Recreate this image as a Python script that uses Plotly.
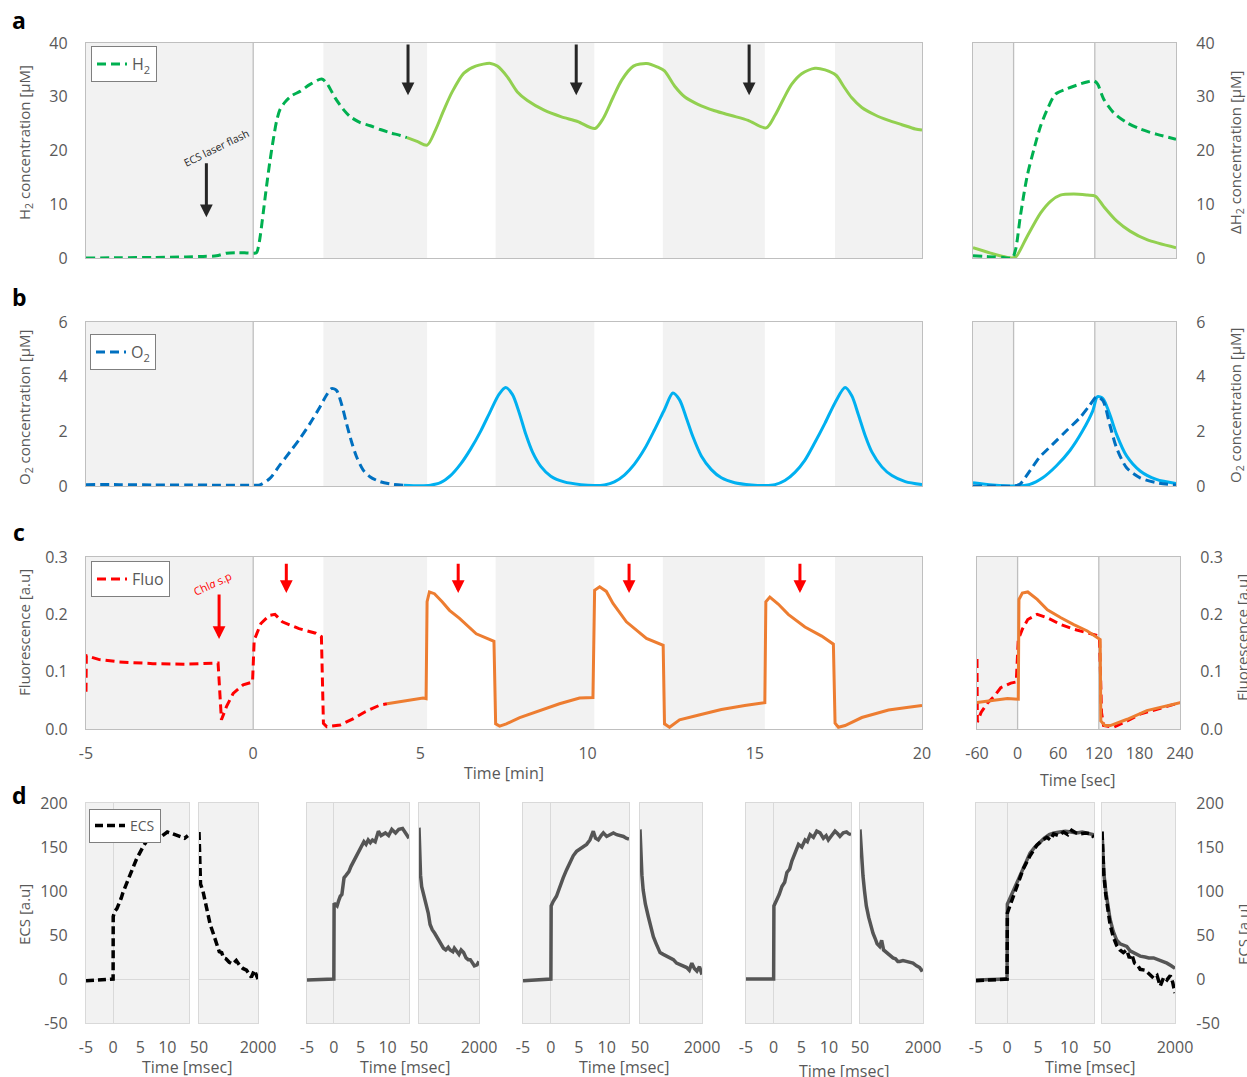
import plotly.graph_objects as go

W, H = 1247, 1077
FONT = "Open Sans"
TXT = "#595959"
SHADE = "#f2f2f2"
FRAME = "#bfbfbf"
FRAME_D = "#d9d9d9"

C_H2_DARK, C_H2_LIGHT = "#00b050", "#92d050"
C_O2_DARK, C_O2_LIGHT = "#0070c0", "#00b0f0"
C_FL_DARK, C_FL_LIGHT = "#ff0000", "#ed7d31"
C_ECS_DARK, C_ECS_LIGHT = "#000000", "#555555"
DASH = "9px,5px"

# ---------------- a: H2 (time in min) ----------------
h2_first_t = [-5, -4, -3, -2, -1.5, -1.1, -0.8, -0.5, -0.2, 0.0, 0.1, 0.16, 0.22, 0.3, 0.4,
              0.5, 0.6, 0.7, 0.8, 0.95, 1.15, 1.4, 1.7, 2.05, 2.2, 2.45, 2.7, 2.9, 3.2, 3.5,
              3.8, 4.1, 4.4, 4.6]
h2_first_v = [0.0, 0.05, 0.1, 0.2, 0.3, 0.4, 0.9, 1.0, 0.95, 0.9, 1.0, 2.2, 4.5, 8.4, 13.4,
              18.0, 22.0, 25.5, 27.6, 29.0, 30.2, 31.0, 32.3, 33.3, 32.5, 29.8, 27.6, 26.3,
              25.2, 24.6, 23.9, 23.3, 22.8, 22.4]
h2_next_t = [4.6, 4.9, 5.2, 5.45, 5.7, 5.95, 6.3, 6.65, 7.1, 7.3, 7.6, 7.9, 8.2, 8.7, 9.2,
             9.7, 10.22, 10.47, 10.77, 11.02, 11.37, 11.77, 12.1, 12.3, 12.6, 12.9, 13.3,
             13.8, 14.3, 14.8, 15.34, 15.6, 15.85, 16.1, 16.4, 16.8, 17.1, 17.43, 17.65,
             17.9, 18.2, 18.6, 19.0, 19.4, 19.8, 20.0]
h2_next_v = [22.4, 21.7, 21.0, 23.8, 27.5, 30.9, 34.4, 35.7, 36.2, 35.7, 33.7, 30.9, 29.3,
             27.5, 26.3, 25.4, 24.1, 26.0, 30.0, 33.1, 35.7, 36.2, 35.5, 34.8, 32.0, 30.0,
             28.6, 27.4, 26.5, 25.6, 24.2, 26.5, 29.5, 32.3, 34.3, 35.3, 35.0, 34.0, 32.0,
             29.8, 28.0, 26.6, 25.6, 24.8, 24.0, 23.8]
# a inset: delta H2 (time in s)
dh2_first_t = [-60, -45, -30, -15, -2, 3, 10, 20, 30, 40, 50, 62, 79, 99, 110, 118, 124,
               133, 148, 167, 187, 212, 240]
dh2_first_v = [0.4, 0.3, 0.2, 0.1, 0.0, 1.6, 7.8, 15.2, 20.2, 24.6, 27.7, 30.5, 31.5, 32.4,
               32.8, 33.0, 32.4, 29.6, 27.0, 25.2, 24.0, 23.0, 22.1]
dh2_next_t = [-60, -34, -2, 4, 20, 40, 55, 69, 89, 109, 121, 133, 153, 172, 197, 240]
dh2_next_v = [1.9, 0.9, 0.0, 0.3, 4.0, 8.4, 10.6, 11.7, 11.9, 11.7, 11.5, 9.6, 6.8, 5.0,
              3.4, 1.9]

# ---------------- b: O2 ----------------
o2_first_t = [-5, -4, -3, -2, -1, 0, 0.2, 0.5, 0.8, 1.1, 1.4, 1.7, 2.0, 2.19, 2.34, 2.49,
              2.64, 2.79, 2.94, 3.09, 3.29, 3.49, 3.79, 4.19, 4.5]
o2_first_v = [0.05, 0.05, 0.04, 0.04, 0.03, 0.03, 0.04, 0.28, 0.77, 1.25, 1.74, 2.29, 2.9,
              3.32, 3.56, 3.5, 3.0, 2.29, 1.62, 1.07, 0.58, 0.34, 0.16, 0.06, 0.03]
o2_next_t = [4.5, 5.0, 5.3, 5.6, 5.9, 6.2, 6.5, 6.8, 7.1, 7.35, 7.55, 7.75, 7.95, 8.15,
             8.35, 8.6, 8.9, 9.3, 9.8, 10.2, 10.5, 10.8, 11.1, 11.4, 11.7, 12.0, 12.3,
             12.55, 12.75, 12.95, 13.15, 13.4, 13.7, 14.0, 14.4, 14.9, 15.3, 15.6, 15.9,
             16.2, 16.5, 16.8, 17.1, 17.4, 17.7, 17.9, 18.1, 18.3, 18.5, 18.8, 19.1, 19.5,
             20.0]
o2_next_v = [0.03, 0.01, 0.03, 0.12, 0.38, 0.8, 1.35, 2.0, 2.75, 3.35, 3.6, 3.35, 2.7, 1.9,
             1.25, 0.72, 0.36, 0.15, 0.05, 0.02, 0.04, 0.15, 0.4, 0.8, 1.35, 2.05, 2.8,
             3.4, 3.15, 2.5, 1.8, 1.1, 0.6, 0.3, 0.12, 0.04, 0.02, 0.05, 0.2, 0.5, 0.95,
             1.6, 2.3, 3.05, 3.6, 3.3, 2.6, 1.85, 1.25, 0.7, 0.38, 0.16, 0.05]
o2s_first_t = [-60, -30, 0, 9, 24, 38, 58, 78, 98, 112, 123, 132, 142, 152, 167, 187, 211, 240]
o2s_first_v = [0.0, 0.0, 0.0, 0.06, 0.55, 1.04, 1.53, 2.02, 2.5, 2.94, 3.27, 3.12, 2.26,
               1.41, 0.67, 0.3, 0.12, 0.04]
o2s_next_t = [-60, -31, 4, 24, 43, 63, 83, 102, 117, 124, 132, 142, 152, 167, 187, 211, 240]
o2s_next_v = [0.12, 0.04, 0.0, 0.06, 0.3, 0.73, 1.29, 2.02, 2.75, 3.27, 3.2, 2.63, 1.9,
              1.1, 0.55, 0.24, 0.09]

# ---------------- c: chlorophyll fluorescence ----------------
fl_first_t = [-5.0, -4.99, -4.6, -4.0, -3.0, -2.0, -1.05, -1.0, -0.95, -0.8, -0.6, -0.3,
              -0.02, 0.03, 0.1, 0.23, 0.48, 0.65, 0.87, 1.37, 1.87, 2.04, 2.1, 2.2, 2.6,
              3.0, 3.35, 3.8, 4.0]
fl_first_v = [0.065, 0.128, 0.121, 0.117, 0.114, 0.113, 0.115, 0.06, 0.016, 0.039, 0.062,
              0.077, 0.082, 0.155, 0.165, 0.184, 0.198, 0.2, 0.187, 0.175, 0.167, 0.161,
              0.01, 0.004, 0.007, 0.018, 0.03, 0.042, 0.044]
fl_next_t = [4.0, 4.5, 5.08, 5.17, 5.2, 5.27, 5.42, 5.65, 5.87, 6.17, 6.67, 7.2, 7.25,
             7.37, 7.57, 7.97, 8.57, 9.16, 9.76, 10.16, 10.21, 10.36, 10.56, 10.76, 11.16,
             11.76, 12.26, 12.3, 12.45, 12.75, 13.3, 14.0, 14.7, 15.3, 15.33, 15.45, 15.7,
             16.0, 16.5, 17.0, 17.35, 17.4, 17.5, 17.7, 18.2, 19.0, 19.6, 20.0]
fl_next_v = [0.044, 0.049, 0.054, 0.053, 0.222, 0.239, 0.236, 0.222, 0.207, 0.193, 0.166,
             0.153, 0.009, 0.005, 0.009, 0.02, 0.032, 0.044, 0.054, 0.055, 0.242, 0.248,
             0.24, 0.219, 0.187, 0.158, 0.146, 0.009, 0.003, 0.016, 0.024, 0.034, 0.041,
             0.046, 0.222, 0.23, 0.218, 0.2, 0.178, 0.162, 0.148, 0.01, 0.003, 0.006, 0.02,
             0.033, 0.038, 0.041]
fls_first_t = [-60, -59.5, -54, -44, -34, -25, -10, -2, 1, 7, 15, 29, 44, 64, 83, 103, 121,
               124, 127, 142, 162, 181, 206, 240]
fls_first_v = [0.122, 0.012, 0.029, 0.046, 0.058, 0.072, 0.08, 0.082, 0.156, 0.174, 0.191,
               0.2, 0.194, 0.182, 0.174, 0.168, 0.162, 0.029, 0.006, 0.003, 0.014, 0.026,
               0.035, 0.046]
fls_next_t = [-60, -39, -15, 1, 2, 7, 15, 29, 44, 64, 83, 103, 122, 123, 129, 137, 162,
              191, 240]
fls_next_v = [0.046, 0.049, 0.053, 0.052, 0.226, 0.237, 0.239, 0.226, 0.208, 0.194, 0.182,
              0.171, 0.156, 0.014, 0.006, 0.006, 0.017, 0.032, 0.046]

# ---------------- d: ECS after each flash (time in ms) ----------------
ecs1_rise_t = [-5, -0.3, 0, 0.02, 0.3, 0.7, 1.2, 1.5, 1.8, 2.4, 3.0, 3.7, 4.3, 4.9, 5.5, 6.1,
               6.7, 7.3, 7.8, 8.5, 9.2, 10.0, 11.0, 12.0, 12.5, 13.2, 13.8]
ecs1_rise_v = [-2, -1, 0, 71, 77, 80, 87, 92, 98, 108, 116, 127, 136, 144, 150, 156, 158,
               162, 159, 160, 163, 167, 165, 163, 161, 160, 163]
ecs1_decay_t = [50, 60, 71, 100, 180, 260, 340, 420, 500, 600, 720, 800, 860, 940, 1050,
                1160, 1280, 1400, 1500, 1620, 1700, 1780, 1880, 1940, 2000]
ecs1_decay_v = [167, 140, 119, 108, 100, 88, 73, 62, 54, 42, 31, 30, 24, 23, 19, 17, 21, 15,
                12, 10, 6, 2, 10, 6, 0]

ecs2_rise_t = [-5, -0.2, 0, 0.05, 0.3, 0.6, 0.9, 1.2, 1.5, 1.9, 2.3, 2.8, 3.2, 3.7, 4.1,
               4.6, 5.0, 5.6, 6.0, 6.4, 6.8, 7.2, 7.7, 8.3, 8.8, 9.6, 10.2, 10.8, 11.5,
               12.1, 12.8, 13.4, 14.0]
ecs2_rise_v = [-1, 0, 0, 86, 84, 83, 89, 94, 96, 115, 118, 122, 128, 134, 138, 145, 150,
               156, 153, 158, 155, 158, 156, 168, 163, 166, 163, 170, 166, 170, 171, 165, 160]
ecs2_decay_t = [50, 70, 100, 137, 200, 300, 350, 410, 480, 560, 627, 700, 780, 845, 920,
                1000, 1063, 1150, 1200, 1281, 1350, 1420, 1499, 1580, 1650, 1717, 1800,
                1850, 1935, 2000]
ecs2_decay_v = [172, 140, 118, 105, 96, 83, 75, 62, 56, 52, 48, 43, 38, 35, 33, 36, 33, 31,
                35, 31, 28, 33, 30, 24, 22, 22, 18, 15, 16, 20]

ecs3_rise_t = [-5, -0.1, 0, 0.05, 0.4, 1.0, 1.5, 2.2, 2.8, 3.4, 4.0, 4.6, 5.2, 5.8, 6.4,
               7.0, 7.6, 8.0, 8.5, 9.0, 9.4, 10.0, 10.6, 11.2, 11.8, 12.4, 13.0, 13.5, 14.0]
ecs3_rise_v = [-2, 0, 0, 83, 88, 94, 104, 115, 124, 132, 140, 145, 148, 151, 153, 158, 168,
               160, 158, 163, 166, 162, 164, 166, 164, 163, 162, 160, 159]
ecs3_decay_t = [50, 80, 110, 150, 220, 310, 400, 470, 560, 680, 780, 890, 1000, 1100, 1200,
                1310, 1420, 1520, 1600, 1680, 1760, 1840, 1920, 2000]
ecs3_decay_v = [170, 140, 118, 101, 85, 71, 58, 48, 40, 30, 28, 26, 24, 22, 18, 16, 14, 13,
                10, 18, 12, 9, 14, 5]

ecs4_rise_t = [-5, 0, 0.05, 0.6, 1.0, 1.5, 2.0, 2.4, 2.9, 3.3, 3.9, 4.5, 5.1, 5.7, 6.1, 6.6,
               7.2, 7.8, 8.4, 9.0, 9.5, 9.9, 10.5, 11.1, 11.6, 12.0, 12.6, 13.2, 13.6, 14.0]
ecs4_rise_v = [0, 0, 83, 90, 96, 105, 110, 121, 125, 134, 143, 153, 150, 158, 156, 164, 161,
               168, 166, 160, 163, 158, 163, 168, 165, 162, 166, 167, 165, 164]
ecs4_decay_t = [50, 80, 110, 143, 190, 246, 320, 400, 452, 520, 580, 659, 720, 780, 865,
                930, 1000, 1071, 1150, 1220, 1278, 1380, 1484, 1590, 1690, 1800, 1896, 1950,
                2000]
ecs4_decay_v = [170, 150, 132, 117, 100, 83, 70, 58, 52, 46, 40, 37, 44, 33, 30, 28, 26, 24,
                23, 20, 20, 21, 20, 19, 18, 15, 13, 10, 11]

# overlay: first flash (dashed) and later flashes (solid)
ecs5a_rise_t = [-5, -0.1, 0, 0.05, 0.8, 1.6, 2.6, 3.7, 4.8, 5.6, 6.4, 7.0, 7.5, 8.3, 9.1,
                9.8, 10.4, 11.1, 11.8, 12.6, 13.4, 14.0]
ecs5a_rise_v = [-2, 0, 0, 75, 90, 106, 125, 140, 152, 157, 161, 158, 165, 163, 167, 164,
                169, 166, 165, 166, 165, 161]
ecs5b_rise_t = [-5, -0.1, 0, 0.05, 0.5, 1.0, 1.6, 2.3, 3.0, 3.7, 4.5, 5.2, 6.0, 6.8, 7.6,
                8.5, 9.4, 10.3, 11.2, 12.1, 13.0, 14.0]
ecs5b_rise_v = [-1, 0, 0, 85, 92, 100, 110, 122, 133, 143, 150, 155, 160, 164, 166, 167,
                168, 167, 166, 167, 166, 164]
ecs5a_decay_t = [50, 70, 100, 150, 200, 265, 350, 444, 530, 620, 712, 780, 846, 920, 1000,
                 1070, 1200, 1300, 1428, 1520, 1606, 1700, 1785, 1875, 1940, 2000]
ecs5a_decay_v = [167, 140, 118, 96, 80, 62, 48, 38, 33, 30, 33, 24, 28, 18, 16, 11, 10, 6,
                 1, 4, -8, 2, -1, 4, -4, -16]
ecs5b_decay_t = [50, 70, 100, 150, 200, 265, 350, 444, 530, 620, 712, 800, 900, 1000, 1070,
                 1200, 1300, 1428, 1550, 1650, 1785, 1900, 2000]
ecs5b_decay_v = [168, 142, 120, 100, 84, 68, 54, 44, 40, 38, 37, 32, 30, 28, 26, 25, 24, 24,
                 22, 20, 18, 15, 12]

# dark intervals (grey background)
dark_min = [(-5, 0), (2.1, 5.2), (7.25, 10.2), (12.25, 15.3), (17.4, 20)]
dark_sec = [(-60, 0), (120, 240)]

# arrows
h2_arrow_t = [4.63, 9.66, 14.83]
fluo_arrow_t = [0.99, 6.13, 11.24, 16.35]
flash_t = -1.4
chl_t = -1.02

min_ticks = [-5, 0, 5, 10, 15, 20]
sec_ticks = [-60, 0, 60, 120, 180, 240]
ms_rise_ticks = [-5, 0, 5, 10]
ms_decay_ticks = [50, 2000]


def xd(p0, p1):
    return [p0 / W, p1 / W]


def yd(top, bot):
    return [1 - bot / H, 1 - top / H]


def ref(kind, n):
    return kind if n == 1 else f"{kind}{n}"


def key(kind, n):
    return kind + ("axis" if n == 1 else f"axis{n}")


fig = go.Figure()


def line(n, x, y, color, dashed=False, width=3, name=None, legend=None, dash=DASH,
         smooth=False):
    fig.add_trace(go.Scatter(
        x=x, y=y, mode="lines", xaxis=ref("x", n), yaxis=ref("y", n),
        line=dict(color=color, width=width, dash=dash if dashed else "solid",
                  shape="spline" if smooth else "linear", smoothing=0.8),
        name=name or "", showlegend=legend is not None, legend=legend or "legend",
        hoverinfo="skip"))


line(1, h2_first_t, h2_first_v, C_H2_DARK, True, name="H<sub>2</sub>", legend="legend",
     smooth=True)
line(1, h2_next_t, h2_next_v, C_H2_LIGHT, smooth=True)
line(2, dh2_next_t, dh2_next_v, C_H2_LIGHT, smooth=True)
line(2, dh2_first_t, dh2_first_v, C_H2_DARK, True, smooth=True)

line(3, o2_first_t, o2_first_v, C_O2_DARK, True, name="O<sub>2</sub>", legend="legend2",
     smooth=True)
line(3, o2_next_t, o2_next_v, C_O2_LIGHT, smooth=True)
line(4, o2s_next_t, o2s_next_v, C_O2_LIGHT, smooth=True)
line(4, o2s_first_t, o2s_first_v, C_O2_DARK, True, smooth=True)

line(5, fl_first_t, fl_first_v, C_FL_DARK, True, name="Fluo", legend="legend3")
line(5, fl_next_t, fl_next_v, C_FL_LIGHT)
line(6, fls_first_t, fls_first_v, C_FL_DARK, True)
line(6, fls_next_t, fls_next_v, C_FL_LIGHT)

EDASH = "8px,4px"
line(7, ecs1_rise_t, ecs1_rise_v, C_ECS_DARK, True, 3.5, "ECS", "legend4", EDASH)
line(8, ecs1_decay_t, ecs1_decay_v, C_ECS_DARK, True, 3.5, dash=EDASH)
line(9, ecs2_rise_t, ecs2_rise_v, C_ECS_LIGHT, width=3.5)
line(10, ecs2_decay_t, ecs2_decay_v, C_ECS_LIGHT, width=3.5)
line(11, ecs3_rise_t, ecs3_rise_v, C_ECS_LIGHT, width=3.5)
line(12, ecs3_decay_t, ecs3_decay_v, C_ECS_LIGHT, width=3.5)
line(13, ecs4_rise_t, ecs4_rise_v, C_ECS_LIGHT, width=3.5)
line(14, ecs4_decay_t, ecs4_decay_v, C_ECS_LIGHT, width=3.5)
line(15, ecs5b_rise_t, ecs5b_rise_v, C_ECS_LIGHT, width=3.5)
line(15, ecs5a_rise_t, ecs5a_rise_v, C_ECS_DARK, True, 3.5, dash=EDASH)
line(16, ecs5b_decay_t, ecs5b_decay_v, C_ECS_LIGHT, width=3.5)
line(16, ecs5a_decay_t, ecs5a_decay_v, C_ECS_DARK, True, 3.5, dash=EDASH)

tickfont = dict(family=FONT, size=16, color=TXT)


def frame(domain, rng, anchor, color=FRAME, **extra):
    d = dict(domain=domain, range=rng, anchor=anchor, showline=True, linecolor=color,
             linewidth=1.3, mirror=True, showgrid=False, zeroline=False,
             showticklabels=False, ticks="", fixedrange=True, tickfont=tickfont,
             automargin=False)
    d.update(extra)
    return d


def labels(vals, text=None, side=None, ticklen=12):
    d = dict(showticklabels=True, tickvals=vals, ticks="outside", ticklen=ticklen,
             tickcolor="rgba(0,0,0,0)")
    d["ticktext"] = text if text is not None else [str(v) for v in vals]
    if side:
        d["side"] = side
    return d


lay = {}
# panels a, b, c: main (minutes) and inset (seconds)
rows = [
    (1, 43, 258, [0, 40], [0, 10, 20, 30, 40], None, False),
    (3, 322, 486, [0, 6], [0, 2, 4, 6], None, False),
    (5, 557, 729, [0, 0.3], [0, 0.1, 0.2, 0.3], ["0.0", "0.1", "0.2", "0.3"], True),
]
for n, top, bot, yr, yt, ytxt, xlab in rows:
    main_x = frame(xd(86, 922), [-5, 20], ref("y", n))
    inset_l, inset_r = (977, 1180) if n == 5 else (973, 1176)
    inset_x = frame(xd(inset_l, inset_r), [-60, 240], ref("y", n + 1))
    if xlab:
        main_x.update(labels(min_ticks, [str(v) for v in min_ticks], ticklen=10))
        inset_x.update(labels(sec_ticks, [str(v) for v in sec_ticks], ticklen=10))
    lay[key("x", n)] = main_x
    lay[key("x", n + 1)] = inset_x
    lay[key("y", n)] = frame(yd(top, bot), yr, ref("x", n), **labels(yt, ytxt, ticklen=14))
    lay[key("y", n + 1)] = frame(yd(top, bot), yr, ref("x", n + 1),
                                 **labels(yt, ytxt, side="right", ticklen=16))

# panel d: five rise/decay pairs
pairs = [((86, 189), (199, 258)), ((307, 409), (419, 479)), ((523, 629), (640, 702)),
         ((746, 851), (860, 923)), ((976, 1094), (1102, 1175))]
d_yt = [-50, 0, 50, 100, 150, 200]
for i, (rise, decay) in enumerate(pairs):
    nr, nd = 7 + 2 * i, 8 + 2 * i
    lay[key("x", nr)] = frame(xd(*rise), [-5, 14], ref("y", nr), FRAME_D,
                              zeroline=True, zerolinecolor=FRAME_D, zerolinewidth=1.2,
                              **labels(ms_rise_ticks, ticklen=10))
    lay[key("x", nd)] = frame(xd(*decay), [50, 2000], ref("y", nd), FRAME_D,
                              **labels(ms_decay_ticks, ticklen=10))
    for n in (nr, nd):
        extra = dict(zeroline=True, zerolinecolor=FRAME_D, zerolinewidth=1.2)
        if n == 7:
            extra.update(labels(d_yt, ticklen=14))
        if n == 16:
            extra.update(labels(d_yt, side="right", ticklen=17))
        lay[key("y", n)] = frame(yd(803, 1023), [-50, 200], ref("x", n), FRAME_D, **extra)

shapes = []
for n in (1, 3, 5):
    for a, b in dark_min:
        shapes.append(dict(type="rect", xref=ref("x", n), yref=ref("y", n) + " domain",
                           x0=a, x1=b, y0=0, y1=1, fillcolor=SHADE, line_width=0,
                           layer="below"))
    shapes.append(dict(type="line", xref=ref("x", n), yref=ref("y", n) + " domain",
                       x0=0, x1=0, y0=0, y1=1, line=dict(color=FRAME, width=1.3),
                       layer="below"))
    for a, b in dark_sec:
        shapes.append(dict(type="rect", xref=ref("x", n + 1), yref=ref("y", n + 1) + " domain",
                           x0=a, x1=b, y0=0, y1=1, fillcolor=SHADE, line_width=0,
                           layer="below"))
    for t in (0, 120):
        shapes.append(dict(type="line", xref=ref("x", n + 1), yref=ref("y", n + 1) + " domain",
                           x0=t, x1=t, y0=0, y1=1, line=dict(color=FRAME, width=1.3),
                           layer="below"))
for n in range(7, 17):
    shapes.append(dict(type="rect", xref=ref("x", n) + " domain", yref=ref("y", n) + " domain",
                       x0=0, x1=1, y0=0, y1=1, fillcolor=SHADE, line_width=0, layer="below"))

ann = []


def text(s, px, py, size=16, color=TXT, angle=0, **kw):
    d = dict(text=s, x=px / W, y=1 - py / H, xref="paper", yref="paper", showarrow=False,
             xanchor="center", yanchor="middle", textangle=angle,
             font=dict(family=FONT, size=size, color=color))
    d.update(kw)
    ann.append(d)


for letter, py in (("a", 20), ("b", 297), ("c", 532), ("d", 795)):
    text(f"<b>{letter}</b>", 19, py, size=23, color="#000000")

text("H<sub>2</sub> concentration [µM]", 25, 143, 15, angle=-90)
text("O<sub>2</sub> concentration [µM]", 25, 408, 15, angle=-90)
text("Fluorescence [a.u]", 24, 633, 15, angle=-90)
text("ECS [a.u]", 24, 915, 15, angle=-90)
text("ΔH<sub>2</sub> concentration [µM]", 1236, 152, 15, angle=-90)
text("O<sub>2</sub> concentration [µM]", 1236, 406, 15, angle=-90)
text("Fluorescence [a.u]", 1242, 638, 15, angle=-90)
text("ECS [a.u]", 1243, 935, 15, angle=-90)
text("Time [min]", 504, 773)
text("Time [sec]", 1078, 780)
for cx, cy in ((187, 1067), (405, 1067), (624, 1067), (844, 1071), (1090, 1067)):
    text("Time [msec]", cx, cy)

text("ECS laser flash", 216, 148, 10.5, "#262626", -26)
text("Chl<i>a</i> s.p", 212, 583, 11, "#ff0000", -25)


def arrow(n, x, y_tail, y_head, color):
    ann.append(dict(x=x, y=y_head, ax=x, ay=y_tail, xref=ref("x", n), yref=ref("y", n),
                    axref=ref("x", n), ayref=ref("y", n), text="", showarrow=True,
                    arrowhead=2, arrowsize=0.85, arrowwidth=3, arrowcolor=color,
                    standoff=0, startstandoff=0))


for t in h2_arrow_t:
    arrow(1, t, 40, 30.3, "#262626")
arrow(1, flash_t, 17.9, 7.6, "#262626")
for t in fluo_arrow_t:
    arrow(5, t, 0.291, 0.237, "#ff0000")
arrow(5, chl_t, 0.237, 0.157, "#ff0000")


def legend_box(px, py, size=16):
    return dict(x=px / W, y=1 - py / H, xanchor="left", yanchor="top", bgcolor="#ffffff",
                bordercolor="#7f7f7f", borderwidth=1, itemwidth=30,
                font=dict(family=FONT, size=size, color=TXT), tracegroupgap=0)


fig.update_layout(
    width=W, height=H, margin=dict(l=0, r=0, t=0, b=0, pad=0, autoexpand=False),
    paper_bgcolor="#ffffff", plot_bgcolor="#ffffff",
    font=dict(family=FONT, color=TXT),
    shapes=shapes, annotations=ann,
    legend=legend_box(91, 46), legend2=legend_box(90, 334),
    legend3=legend_box(91, 561), legend4=legend_box(89, 809, 14),
    **lay)

fig.write_html("out.html")
